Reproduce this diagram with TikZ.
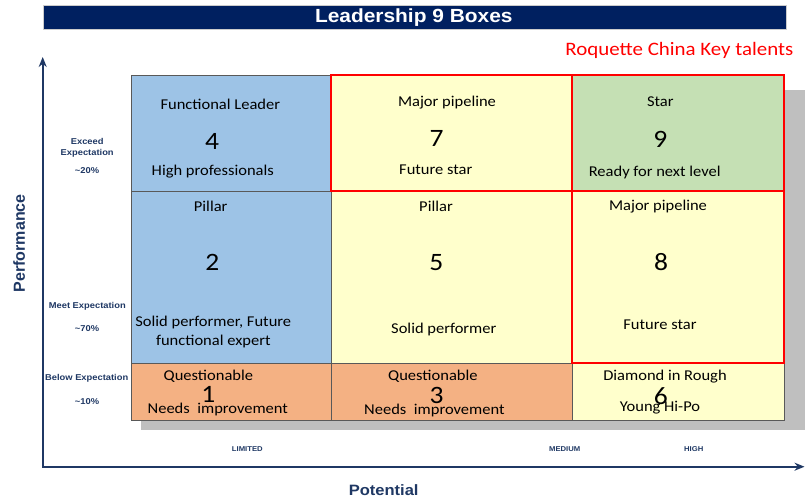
\documentclass[tikz,border=0pt]{standalone}
\usepackage{fontspec}
\setmainfont{Carlito}[FakeStretch=1.1]
\newfontfamily\hdfont{Liberation Sans}[FakeStretch=1.1]
\newfontfamily\axfont{Liberation Sans}
\usetikzlibrary{arrows.meta}
\definecolor{navy}{RGB}{0,32,96}
\definecolor{axisblue}{RGB}{31,56,100}
\definecolor{cblue}{RGB}{157,195,230}
\definecolor{cyellow}{RGB}{255,255,204}
\definecolor{cgreen}{RGB}{197,224,180}
\definecolor{corange}{RGB}{244,177,131}
\definecolor{shadowgray}{RGB}{191,191,191}
\definecolor{gridline}{RGB}{89,89,89}
\definecolor{keyred}{RGB}{255,0,0}
\begin{document}
\begin{tikzpicture}[x=1pt,y=-1pt,
  cell/.style={draw=gridline,line width=0.8pt,inner sep=0pt,outer sep=0pt,anchor=north west},
  keyframe/.style={draw=keyred,line width=2.4pt},
  lbl/.style={anchor=base,inner sep=0pt,font=\fontsize{15}{18}\selectfont},
  num/.style={anchor=base,inner sep=0pt,font=\fontsize{25}{30}\selectfont},
  side/.style={anchor=base,inner sep=0pt,text=axisblue,font=\hdfont\bfseries\fontsize{8.5}{10}\selectfont},
  tick/.style={anchor=center,inner sep=0pt,text=axisblue,font=\hdfont\bfseries\fontsize{7}{8}\selectfont},
  axis/.style={draw=axisblue,line width=2.4pt,{Stealth[length=10pt,width=8pt]}-{Stealth[length=10pt,width=8pt]}}]
\fill[white] (0,0) rectangle (805,498);
\useasboundingbox (0,0) rectangle (805,498);

% title bar
\node[fill=navy,draw=gray!40,line width=0.6pt,inner sep=0pt,anchor=north west,
      minimum width=743pt,minimum height=24pt] (title) at (42.5,5) {};
\node[anchor=base,inner sep=0pt,text=white,font=\hdfont\bfseries\fontsize{19}{22}\selectfont]
      (titletext) at (413.8,22.7) {Leadership 9 Boxes};
\node[anchor=base,inner sep=0pt,text=keyred,font=\fontsize{19}{22}\selectfont]
      (keytext) at (679.4,55) {Roquette China Key talents};

% shadow
\node[fill=shadowgray,inner sep=0pt,anchor=north west,minimum width=664pt,minimum height=340pt]
      (shadow) at (141,90) {};

% cells
\node[cell,fill=cblue,  minimum width=200pt,minimum height=116pt] (c4) at (131,75) {};
\node[cell,fill=cyellow,minimum width=241pt,minimum height=116pt] (c7) at (331,75) {};
\node[cell,fill=cgreen, minimum width=212pt,minimum height=116pt] (c9) at (572,75) {};
\node[cell,fill=cblue,  minimum width=200pt,minimum height=172pt] (c2) at (131,191) {};
\node[cell,fill=cyellow,minimum width=241pt,minimum height=172pt] (c5) at (331,191) {};
\node[cell,fill=cyellow,minimum width=212pt,minimum height=172pt] (c8) at (572,191) {};
\node[cell,fill=corange,minimum width=200pt,minimum height=57pt] (c1) at (131,363) {};
\node[cell,fill=corange,minimum width=241pt,minimum height=57pt] (c3) at (331,363) {};
\node[cell,fill=cyellow,minimum width=212pt,minimum height=57pt] (c6) at (572,363) {};

% key talent frames
\draw[keyframe] (c7.north west) rectangle (c7.south east);
\draw[keyframe] (c9.north west) rectangle (c9.south east);
\draw[keyframe] (c8.north west) rectangle (c8.south east);

% cell texts
\node[lbl] (t4a) at (220.3,109) {Functional Leader};
\node[num] (t4n) at (212,149.3) {4};
\node[lbl] (t4b) at (212.8,175.7) {High professionals};

\node[lbl] (t7a) at (447,106.7) {Major pipeline};
\node[num] (t7n) at (436.7,146.7) {7};
\node[lbl] (t7b) at (435.8,174) {Future star};

\node[lbl] (t9a) at (660.3,106.7) {Star};
\node[num] (t9n) at (660.3,147.3) {9};
\node[lbl] (t9b) at (654.7,176) {Ready for next level};

\node[lbl] (t2a) at (210.7,211.7) {Pillar};
\node[num] (t2n) at (212.3,270) {2};
\node[lbl] (t2b) at (213.3,326.7) {Solid performer, Future};
\node[lbl] (t2c) at (213.3,345) {functional expert};

\node[lbl] (t5a) at (436,211.7) {Pillar};
\node[num] (t5n) at (436.3,270) {5};
\node[lbl] (t5b) at (443.8,333.3) {Solid performer};

\node[lbl] (t8a) at (658,210.7) {Major pipeline};
\node[num] (t8n) at (661,270) {8};
\node[lbl] (t8b) at (660,329) {Future star};

\node[lbl] (t1a) at (208.4,380) {Questionable};
\node[num] (t1n) at (208.4,402.7) {1};
\node[lbl] (t1b) at (217.8,413.3) {Needs\ \ improvement};

\node[lbl] (t3a) at (432.9,380) {Questionable};
\node[num] (t3n) at (436.6,403.3) {3};
\node[lbl] (t3b) at (434.4,414) {Needs\ \ improvement};

\node[lbl] (t6a) at (665,380) {Diamond in Rough};
\node[num] (t6n) at (660.8,404) {6};
\node[lbl] (t6b) at (660,411.7) {Young Hi-Po};

% axes
\coordinate (origin) at (42.7,466.7);
\coordinate (ytip) at (42.7,57);
\coordinate (xtip) at (804.5,466.7);
\draw[axis] (ytip) -- (origin) -- (xtip);

\node[rotate=90,inner sep=0pt,text=axisblue,font=\axfont\bfseries\fontsize{16}{18}\selectfont]
      (perf) at (19.2,243.3) {Performance};
\node[anchor=base,inner sep=0pt,text=axisblue,font=\hdfont\bfseries\fontsize{15}{18}\selectfont]
      (pot) at (383.7,495) {Potential};

% side labels
\node[side] (s1) at (87.2,144.3) {Exceed};
\node[side] (s2) at (87.2,155.7) {Expectation};
\node[side] (s3) at (87,173.3) {\textasciitilde 20\%};
\node[side] (s4) at (87.3,308.3) {Meet Expectation};
\node[side] (s5) at (87,331.7) {\textasciitilde 70\%};
\node[side] (s6) at (86.7,380) {Below Expectation};
\node[side] (s7) at (87,404) {\textasciitilde 10\%};

% potential ticks
\node[tick] (lim) at (247.3,449.3) {LIMITED};
\node[tick] (med) at (564.7,449.3) {MEDIUM};
\node[tick] (high) at (693.8,449.3) {HIGH};
\end{tikzpicture}
\end{document}
